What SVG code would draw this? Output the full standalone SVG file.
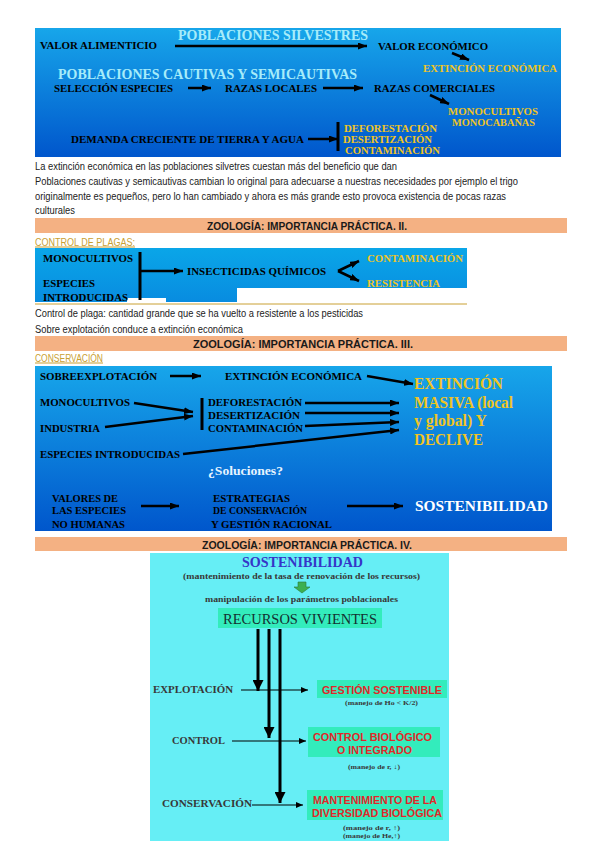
<svg xmlns="http://www.w3.org/2000/svg" width="599" height="848" viewBox="0 0 599 848">
<defs>
<linearGradient id="g1" x1="0" y1="0" x2="0" y2="1"><stop offset="0" stop-color="#17a6ea"/><stop offset="1" stop-color="#0056cc"/></linearGradient>
<linearGradient id="g2" x1="0" y1="0" x2="0" y2="1"><stop offset="0" stop-color="#0aa6e8"/><stop offset="1" stop-color="#088ce0"/></linearGradient>
<marker id="ah" markerWidth="9" markerHeight="7" refX="9" refY="3.5" orient="auto" markerUnits="userSpaceOnUse"><path d="M0,0 L9,3.5 L0,7 z" fill="#000"/></marker>
<marker id="ahs" markerWidth="7" markerHeight="6" refX="7" refY="3" orient="auto" markerUnits="userSpaceOnUse"><path d="M0,0 L7,3 L0,6 z" fill="#000"/></marker>
<marker id="ahb" markerWidth="11" markerHeight="11" refX="11" refY="5.5" orient="auto" markerUnits="userSpaceOnUse"><path d="M0,0 L11,5.5 L0,11 z" fill="#000"/></marker>
<style>
.s{font-family:"Liberation Serif",serif;font-weight:bold}
.p{font-family:"Liberation Sans",Arial,sans-serif;font-size:10px;fill:#222}
.h{font-family:"Liberation Sans",Arial,sans-serif;font-size:11px;font-weight:bold;fill:#1a1a1a}
.k{fill:#000}
.y{fill:#f0c424}
.c{fill:#a6ecfa}
.band{fill:#f4b183}
.gold{font-family:"Liberation Sans",Arial,sans-serif;font-size:10px;fill:#c9a032;text-decoration:underline}
.ar{stroke:#000;stroke-width:2.5;fill:none;marker-end:url(#ah)}
.ar2{stroke:#000;stroke-width:1.2;fill:none;marker-end:url(#ahs)}
.bar{stroke:#000;stroke-width:3}
.tb{fill:#33ecbc}
.rd{font-family:"Liberation Sans",Arial,sans-serif;font-weight:bold;font-size:11px;fill:#e02828}
.g{fill:#383838}
</style>
</defs>
<rect width="599" height="848" fill="#fff"/>

<!-- Panel 1 -->
<g id="panel1">
<rect x="35" y="28" width="526" height="129" fill="url(#g1)"/>
<text class="s c" x="178" y="40" font-size="14" textLength="190" lengthAdjust="spacingAndGlyphs">POBLACIONES SILVESTRES</text>
<text class="s k" x="40" y="49" font-size="10" textLength="117" lengthAdjust="spacingAndGlyphs">VALOR ALIMENTICIO</text>
<text class="s k" x="378" y="50" font-size="10" textLength="110" lengthAdjust="spacingAndGlyphs">VALOR ECONÓMICO</text>
<text class="s y" x="423" y="71.5" font-size="9.5" textLength="134" lengthAdjust="spacingAndGlyphs">EXTINCIÓN ECONÓMICA</text>
<text class="s c" x="58" y="79" font-size="14" textLength="299" lengthAdjust="spacingAndGlyphs">POBLACIONES CAUTIVAS Y SEMICAUTIVAS</text>
<text class="s k" x="54" y="92" font-size="10" textLength="119" lengthAdjust="spacingAndGlyphs">SELECCIÓN ESPECIES</text>
<text class="s k" x="225" y="92" font-size="10" textLength="92" lengthAdjust="spacingAndGlyphs">RAZAS LOCALES</text>
<text class="s k" x="374" y="92" font-size="10" textLength="121" lengthAdjust="spacingAndGlyphs">RAZAS COMERCIALES</text>
<text class="s y" x="448" y="114.5" font-size="9.5" textLength="90" lengthAdjust="spacingAndGlyphs">MONOCULTIVOS</text>
<text class="s y" x="452" y="125.5" font-size="9.5" textLength="83" lengthAdjust="spacingAndGlyphs">MONOCABAÑAS</text>
<text class="s k" x="71" y="142.5" font-size="10" textLength="233" lengthAdjust="spacingAndGlyphs">DEMANDA CRECIENTE DE TIERRA Y AGUA</text>
<text class="s y" x="344" y="131.5" font-size="10" textLength="93" lengthAdjust="spacingAndGlyphs">DEFORESTACIÓN</text>
<text class="s y" x="343" y="142.5" font-size="10" textLength="89" lengthAdjust="spacingAndGlyphs">DESERTIZACIÓN</text>
<text class="s y" x="345" y="153.5" font-size="10" textLength="95" lengthAdjust="spacingAndGlyphs">CONTAMINACIÓN</text>
</g>

<g id="notes1">
<text class="p" x="35" y="170" textLength="362" lengthAdjust="spacingAndGlyphs">La extinción económica en las poblaciones silvetres cuestan más del beneficio que dan</text>
<text class="p" x="35" y="185" textLength="483" lengthAdjust="spacingAndGlyphs">Poblaciones cautivas y semicautivas cambian lo original para adecuarse a nuestras necesidades por ejemplo el trigo</text>
<text class="p" x="35" y="200" textLength="471" lengthAdjust="spacingAndGlyphs">originalmente es pequeños, pero lo han cambiado y ahora es más grande esto provoca existencia de pocas razas</text>
<text class="p" x="35" y="214" textLength="40" lengthAdjust="spacingAndGlyphs">culturales</text>
</g>

<!-- Band II -->
<g id="band2">
<rect class="band" x="35" y="218" width="532" height="15"/>
<text class="h" x="207" y="230" textLength="200" lengthAdjust="spacingAndGlyphs">ZOOLOGÍA: IMPORTANCIA PRÁCTICA. II.</text>
<text class="gold" x="35" y="245.5" textLength="100" lengthAdjust="spacingAndGlyphs">CONTROL DE PLAGAS:</text>
</g>

<g id="panel2">
<rect x="35" y="248" width="432" height="54" fill="url(#g2)"/>
<rect x="127" y="298" width="39" height="5" fill="#fff"/>
<rect x="237" y="288" width="231" height="15" fill="#fff"/>
<line x1="35" y1="304" x2="467" y2="304" stroke="#c9a032" stroke-width="1"/>
<text class="s k" x="43" y="262" font-size="10.5" textLength="90" lengthAdjust="spacingAndGlyphs">MONOCULTIVOS</text>
<text class="s k" x="43" y="287" font-size="10.5" textLength="52" lengthAdjust="spacingAndGlyphs">ESPECIES</text>
<text class="s k" x="43" y="300.5" font-size="10.5" textLength="85" lengthAdjust="spacingAndGlyphs">INTRODUCIDAS</text>
<text class="s k" x="187" y="275" font-size="10.5" textLength="139" lengthAdjust="spacingAndGlyphs">INSECTICIDAS QUÍMICOS</text>
<text class="s y" x="367" y="262" font-size="10.5" textLength="96" lengthAdjust="spacingAndGlyphs">CONTAMINACIÓN</text>
<text class="s y" x="367" y="287" font-size="10.5" textLength="73" lengthAdjust="spacingAndGlyphs">RESISTENCIA</text>
</g>

<g id="notes2">
<text class="p" x="35" y="316.5" textLength="328" lengthAdjust="spacingAndGlyphs">Control de plaga: cantidad grande que se ha vuelto a resistente a los pesticidas</text>
<text class="p" x="35" y="332.5" textLength="208" lengthAdjust="spacingAndGlyphs">Sobre explotación conduce a extinción económica</text>
</g>

<!-- Band III -->
<g id="band3">
<rect class="band" x="35" y="336" width="532" height="15"/>
<text class="h" x="193" y="347.5" textLength="220" lengthAdjust="spacingAndGlyphs">ZOOLOGÍA: IMPORTANCIA PRÁCTICA. III.</text>
<text class="gold" x="35" y="361.5" textLength="68" lengthAdjust="spacingAndGlyphs">CONSERVACIÓN</text>
</g>

<g id="panel3">
<rect x="35" y="366" width="517" height="165" fill="url(#g1)"/>
<text class="s k" x="40" y="379.5" font-size="10" textLength="117" lengthAdjust="spacingAndGlyphs">SOBREEXPLOTACIÓN</text>
<text class="s k" x="225" y="379.5" font-size="10" textLength="137" lengthAdjust="spacingAndGlyphs">EXTINCIÓN ECONÓMICA</text>
<text class="s y" x="414" y="389" font-size="17" textLength="89" lengthAdjust="spacingAndGlyphs">EXTINCIÓN</text>
<text class="s y" x="414" y="408" font-size="17" textLength="99" lengthAdjust="spacingAndGlyphs">MASIVA (local</text>
<text class="s y" x="414" y="426" font-size="17" textLength="73" lengthAdjust="spacingAndGlyphs">y global) Y</text>
<text class="s y" x="414" y="445" font-size="17" textLength="69" lengthAdjust="spacingAndGlyphs">DECLIVE</text>
<text class="s k" x="40" y="405.5" font-size="10" textLength="90" lengthAdjust="spacingAndGlyphs">MONOCULTIVOS</text>
<text class="s k" x="40" y="431.5" font-size="10" textLength="60" lengthAdjust="spacingAndGlyphs">INDUSTRIA</text>
<text class="s k" x="208" y="405.5" font-size="10" textLength="94" lengthAdjust="spacingAndGlyphs">DEFORESTACIÓN</text>
<text class="s k" x="208" y="418.5" font-size="10" textLength="92" lengthAdjust="spacingAndGlyphs">DESERTIZACIÓN</text>
<text class="s k" x="208" y="431.5" font-size="10" textLength="95" lengthAdjust="spacingAndGlyphs">CONTAMINACIÓN</text>
<text class="s k" x="40" y="457.5" font-size="10" textLength="140" lengthAdjust="spacingAndGlyphs">ESPECIES INTRODUCIDAS</text>
<text class="s" x="208" y="475" font-size="13" fill="#e6f4ff" textLength="75" lengthAdjust="spacingAndGlyphs">¿Soluciones?</text>
<text class="s k" x="52" y="501.5" font-size="10" textLength="66" lengthAdjust="spacingAndGlyphs">VALORES DE</text>
<text class="s k" x="52" y="513.5" font-size="10" textLength="74" lengthAdjust="spacingAndGlyphs">LAS ESPECIES</text>
<text class="s k" x="52" y="527.5" font-size="10" textLength="73" lengthAdjust="spacingAndGlyphs">NO HUMANAS</text>
<text class="s k" x="213" y="501.5" font-size="10" textLength="77" lengthAdjust="spacingAndGlyphs">ESTRATEGIAS</text>
<text class="s k" x="213" y="513.5" font-size="10" textLength="94" lengthAdjust="spacingAndGlyphs">DE CONSERVACIÓN</text>
<text class="s k" x="211" y="527.5" font-size="10" textLength="121" lengthAdjust="spacingAndGlyphs">Y GESTIÓN RACIONAL</text>
<text class="s" x="415" y="511" font-size="15" fill="#fff" textLength="133" lengthAdjust="spacingAndGlyphs">SOSTENIBILIDAD</text>
</g>

<!-- Band IV -->
<g id="band4">
<rect class="band" x="35" y="537" width="532" height="14"/>
<text class="h" x="202" y="548.5" textLength="210" lengthAdjust="spacingAndGlyphs">ZOOLOGÍA: IMPORTANCIA PRÁCTICA. IV.</text>
</g>

<g id="panel4">
<rect x="150" y="553" width="299" height="288" fill="#66eef5"/>
<text class="s" x="242" y="567" font-size="15" fill="#3535c8" textLength="121" lengthAdjust="spacingAndGlyphs">SOSTENIBILIDAD</text>
<text class="s g" x="183" y="578.5" font-size="8" textLength="237" lengthAdjust="spacingAndGlyphs">(mantenimiento de la tasa de renovación de los recursos)</text>
<path d="M298,582 h8 v5 h4 l-8,6 l-8,-6 h4 z" fill="#3cb050" stroke="#2a7a3a" stroke-width="0.6"/>
<text class="s g" x="205" y="602" font-size="8.5" textLength="193" lengthAdjust="spacingAndGlyphs">manipulación de los parámetros poblacionales</text>
</g>

<g id="recursos">
<rect class="tb" x="218" y="608" width="164" height="20"/>
<text x="223" y="623.5" font-family="Liberation Serif, serif" font-size="15.5" fill="#143030" textLength="154" lengthAdjust="spacingAndGlyphs">RECURSOS VIVIENTES</text>
</g>

<g id="explotacion">
<text class="s g" x="153" y="693" font-size="10" textLength="80" lengthAdjust="spacingAndGlyphs">EXPLOTACIÓN</text>
</g>
<g id="gestion">
<rect class="tb" x="317" y="680" width="130" height="18"/>
<text class="rd" x="322" y="693.5" textLength="120" lengthAdjust="spacingAndGlyphs">GESTIÓN SOSTENIBLE</text>
<text class="s g" x="345" y="704.5" font-size="6.5" textLength="73" lengthAdjust="spacingAndGlyphs">(manejo de Ho &lt; K/2)</text>
</g>
<g id="control">
<text class="s g" x="172" y="743.5" font-size="10" textLength="53" lengthAdjust="spacingAndGlyphs">CONTROL</text>
</g>
<g id="controlbio">
<rect class="tb" x="308" y="727" width="132" height="30"/>
<text class="rd" x="313" y="740.5" textLength="119" lengthAdjust="spacingAndGlyphs">CONTROL BIOLÓGICO</text>
<text class="rd" x="337" y="754" textLength="75" lengthAdjust="spacingAndGlyphs">O INTEGRADO</text>
<text class="s g" x="348" y="768.5" font-size="6.5" textLength="52" lengthAdjust="spacingAndGlyphs">(manejo de r, ↓)</text>
</g>
<g id="conservacion">
<text class="s g" x="162" y="806.5" font-size="10" textLength="90" lengthAdjust="spacingAndGlyphs">CONSERVACIÓN</text>
</g>
<g id="mantenimiento">
<rect class="tb" x="307" y="790" width="136" height="30"/>
<text class="rd" x="313" y="803.5" textLength="124" lengthAdjust="spacingAndGlyphs">MANTENIMIENTO DE LA</text>
<text class="rd" x="312" y="817" textLength="130" lengthAdjust="spacingAndGlyphs">DIVERSIDAD BIOLÓGICA</text>
<text class="s g" x="343" y="829.5" font-size="6.5" textLength="57" lengthAdjust="spacingAndGlyphs">(manejo de r, ↑)</text>
<text class="s g" x="343" y="837.5" font-size="6.5" textLength="57" lengthAdjust="spacingAndGlyphs">(manejo de He,↑)</text>
</g>

<!-- Connectors -->
<g id="connectors">
<line class="ar" x1="175" y1="46" x2="367" y2="46"/>
<line class="ar" x1="452" y1="53" x2="469" y2="60"/>
<line class="ar" x1="188" y1="88" x2="211" y2="88"/>
<line class="ar" x1="323" y1="88" x2="363" y2="88"/>
<line class="ar" x1="430" y1="95" x2="449" y2="104"/>
<line class="ar" x1="308" y1="139" x2="338" y2="139"/>
<line class="bar" x1="338" y1="122" x2="338" y2="151"/>

<line class="bar" x1="140" y1="252" x2="140" y2="300"/>
<line class="ar" x1="140" y1="271" x2="183" y2="271"/>
<line class="ar" x1="338" y1="271" x2="359" y2="261"/>
<line class="ar" x1="338" y1="271" x2="359" y2="281"/>

<line class="ar" x1="170" y1="376" x2="201" y2="376"/>
<line class="ar" x1="367" y1="376" x2="413" y2="384"/>
<line class="ar" x1="134" y1="403" x2="193" y2="412"/>
<line class="ar" x1="105" y1="427" x2="193" y2="416"/>
<line class="bar" x1="202" y1="398" x2="202" y2="430"/>
<line class="ar" x1="305" y1="403" x2="399" y2="403"/>
<line class="ar" x1="305" y1="413" x2="399" y2="413"/>
<line class="ar" x1="305" y1="426" x2="399" y2="422"/>
<line class="ar" x1="183" y1="454" x2="399" y2="430"/>
<line class="ar" x1="141" y1="506" x2="179" y2="506"/>
<line class="ar" x1="347" y1="506" x2="403" y2="506"/>

<line x1="258" y1="629" x2="258" y2="691" stroke="#000" stroke-width="3" marker-end="url(#ahb)"/>
<line x1="269" y1="629" x2="269" y2="738" stroke="#000" stroke-width="3" marker-end="url(#ahb)"/>
<line x1="280" y1="629" x2="280" y2="803" stroke="#000" stroke-width="3" marker-end="url(#ahb)"/>
<line class="ar2" x1="241" y1="690" x2="308" y2="690"/>
<line class="ar2" x1="232" y1="741" x2="306" y2="741"/>
<line class="ar2" x1="252" y1="805" x2="303" y2="805"/>
</g>
</svg>
